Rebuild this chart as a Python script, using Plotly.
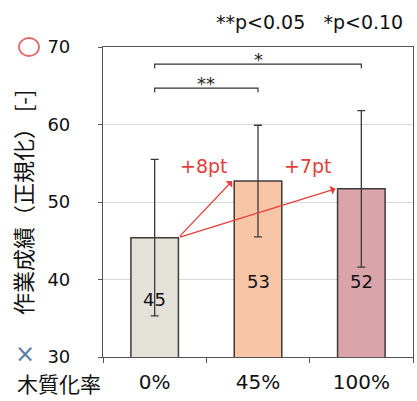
import plotly.graph_objects as go

# Work score by lignification rate (normalised)
categories = ["0%", "45%", "100%"]
scores = [45.4, 52.7, 51.7]
score_labels = [45, 53, 52]
sd = [10.1, 7.2, 10.1]
bar_colors = ["#e4e1d9", "#f8c5a7", "#dba4aa"]

# significance comparisons: (from index, to index, marker)
comparisons = [(0, 1, "**"), (0, 2, "*")]
bracket_levels = [64.7, 67.8]

y_ticks = [30, 40, 50, 60, 70]

LATIN = "DejaVu Sans, Noto Sans CJK JP"
CJK = "Noto Sans CJK JP"
RED = "#e23e3a"

W, H = 417, 401
ML, MR, MT, MB = 103, 4, 47, 44
pw, ph = W - ML - MR, H - MT - MB


def px(xp, yp):
    """Pixel position in the page -> paper coordinates."""
    return (xp - ML) / pw, (H - MB - yp) / ph


fig = go.Figure()
fig.add_trace(go.Bar(
    x=categories, y=scores, width=0.46,
    marker=dict(color=bar_colors, line=dict(color="#3e3a3a", width=1.5)),
    error_y=dict(type="data", array=sd, visible=True, color="#3a3a3a",
                 thickness=1.3, width=4),
    showlegend=False,
))

annotations = []
shapes = []

# value labels inside the bars
label_y = [37.4, 39.8, 39.8]
for i, (lab, ly) in enumerate(zip(score_labels, label_y)):
    annotations.append(dict(x=i, y=ly, xref="x", yref="y", text=str(lab),
                            showarrow=False, font=dict(size=18, color="#111", family=LATIN)))

# red arrows from the 0% bar to the other bars, with the gain in points
half = 0.23
for j in (1, 2):
    annotations.append(dict(
        x=j - half - 0.02, y=scores[j], xref="x", yref="y",
        ax=0 + half, ay=scores[0], axref="x", ayref="y",
        showarrow=True, arrowhead=1, arrowsize=1.3, arrowwidth=1.2,
        arrowcolor=RED, text=""))
    annotations.append(dict(
        x=j - 0.52, y=54.6, xref="x", yref="y",
        text=f"+{score_labels[j] - score_labels[0]}pt", showarrow=False,
        font=dict(size=19, color=RED, family=LATIN)))

# significance brackets
for (a, b, mark), lvl in zip(comparisons, bracket_levels):
    shapes.append(dict(type="path", xref="x", yref="y",
                       path=f"M {a},{lvl - 0.55} L {a},{lvl} L {b},{lvl} L {b},{lvl - 0.55}",
                       line=dict(color="#333", width=1.2)))
    annotations.append(dict(x=(a + b) / 2, y=lvl + 0.6, xref="x", yref="y",
                            text=mark, showarrow=False,
                            font=dict(size=18, color="#222", family=LATIN)))

# p-value key above the plot
x0, y0 = px(405, 22)
annotations.append(dict(x=x0, y=y0, xref="paper", yref="paper",
                        text="**p<0.05   *p<0.10", showarrow=False,
                        xanchor="right", yanchor="middle",
                        font=dict(size=19, color="#111", family=LATIN)))

# category axis caption
tx, ty = px(59, 383)
annotations.append(dict(x=tx, y=ty, xref="paper", yref="paper", text="木質化率",
                        showarrow=False, xanchor="center", yanchor="middle",
                        font=dict(size=21, color="#111", family=CJK)))

# value axis caption
ax_x, ax_y = px(22, 203)
annotations.append(dict(x=ax_x, y=ax_y, xref="paper", yref="paper",
                        text="作業成績（正規化） [-]", textangle=-90, showarrow=False,
                        xanchor="center", yanchor="middle",
                        font=dict(size=22, color="#111", family=CJK)))

# small marker symbols at the ends of the value axis
bx, by = px(25, 354)
annotations.append(dict(x=bx, y=by, xref="paper", yref="paper", text="×",
                        showarrow=False, xanchor="center", yanchor="middle",
                        font=dict(size=24, color="#5a7ea6", family=LATIN)))
c0x, c0y = px(19, 56)
c1x, c1y = px(39, 38)
shapes.append(dict(type="circle", xref="paper", yref="paper",
                   x0=c0x, y0=c0y, x1=c1x, y1=c1y,
                   line=dict(color="#e06a6a", width=1.8)))

fig.update_layout(
    width=W, height=H,
    margin=dict(l=ML, r=MR, t=MT, b=MB),
    paper_bgcolor="white", plot_bgcolor="white",
    font=dict(family=LATIN, size=19, color="#111"),
    annotations=annotations, shapes=shapes,
    xaxis=dict(showline=True, linecolor="#555", linewidth=1.2, mirror=True,
               ticks="outside", tickson="boundaries", ticklen=5, tickcolor="#555",
               showgrid=False, tickfont=dict(size=20, family=LATIN), ticklabelstandoff=7),
    yaxis=dict(range=[30, 70], tickvals=y_ticks, showline=True, linecolor="#555",
               linewidth=1.2, mirror=True, ticks="outside", ticklen=4, tickcolor="#555",
               showgrid=True, gridcolor="#d9d9d9", gridwidth=1, zeroline=False,
               tickfont=dict(size=18, family=LATIN), ticklabelstandoff=24),
)

fig.write_html("out.html")
